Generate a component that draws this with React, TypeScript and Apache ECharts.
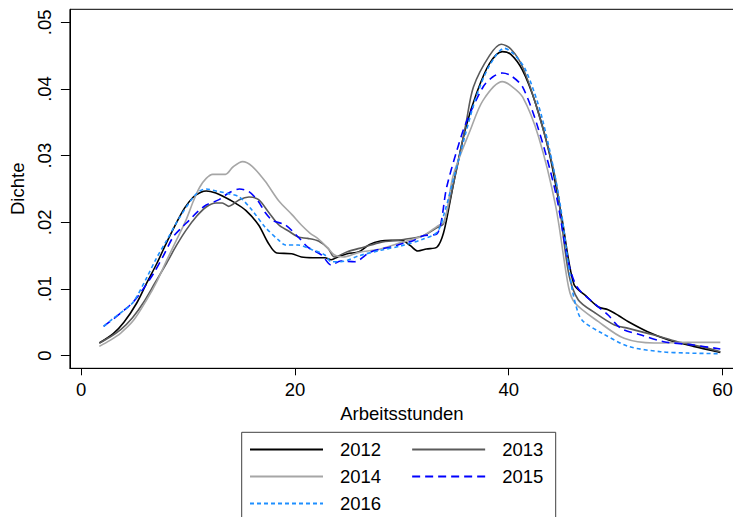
import { useEffect, useRef } from "react";
import * as echarts from "echarts";

const years = ["2012", "2013", "2014", "2015", "2016"];

const s2012: [number, number][] = [
  [1.7, 0.0019], [3.0, 0.0033], [4.0, 0.005], [5.2, 0.0079], [6.1, 0.0108], [7.1, 0.0139], [8.0, 0.017],
  [8.9, 0.0199], [9.7, 0.0222], [10.5, 0.0238], [11.2, 0.0245], [11.7, 0.0247], [12.6, 0.0244], [13.4, 0.0238],
  [14.2, 0.0231], [15.4, 0.0218], [16.6, 0.0196], [17.5, 0.0169], [18.3, 0.0154], [19.7, 0.0153], [20.6, 0.0148],
  [21.7, 0.0147], [22.8, 0.0147], [23.4, 0.0144], [24.0, 0.0148], [24.9, 0.0153], [26.0, 0.0156], [27.0, 0.0167],
  [28.0, 0.0172], [29.0, 0.0173], [30.0, 0.0173], [30.8, 0.0165], [31.5, 0.0157], [32.3, 0.016], [33.3, 0.0163],
  [33.9, 0.0184], [34.5, 0.023], [35.1, 0.0279], [36.0, 0.0343], [37.0, 0.0394], [38.2, 0.0438], [39.4, 0.0456],
  [40.2, 0.0452], [41.3, 0.0428], [42.5, 0.0379], [43.8, 0.0304], [45.0, 0.0204], [46.1, 0.0107], [47.2, 0.009],
  [48.4, 0.0073], [49.3, 0.0069], [50.3, 0.006], [51.2, 0.0051], [53.0, 0.0036], [54.9, 0.0024], [57.3, 0.0014],
  [59.8, 0.0005],
];

const s2013: [number, number][] = [
  [1.7, 0.0019], [2.7, 0.0028], [3.7, 0.0039], [4.8, 0.0057], [5.8, 0.0079], [6.9, 0.0109], [8.0, 0.0139],
  [8.9, 0.0165], [9.8, 0.0188], [10.8, 0.0209], [11.7, 0.0223], [12.6, 0.0229], [13.2, 0.0229], [13.8, 0.0224],
  [14.8, 0.0234], [15.7, 0.0238], [16.6, 0.0234], [17.5, 0.0216], [18.5, 0.0196], [19.4, 0.0187], [20.3, 0.0178],
  [21.2, 0.0176], [22.2, 0.0172], [23.1, 0.0161], [23.7, 0.0148], [24.9, 0.0156], [26.5, 0.0163], [28.0, 0.017],
  [30.0, 0.0174], [32.0, 0.018], [33.3, 0.0192], [33.9, 0.0198], [35.0, 0.027], [36.0, 0.0348], [36.7, 0.0403],
  [38.2, 0.045], [39.3, 0.0467], [40.2, 0.046], [41.3, 0.0433], [42.8, 0.0363], [44.4, 0.0263], [45.6, 0.0124],
  [46.5, 0.0084], [48.1, 0.0064], [49.9, 0.0046], [51.2, 0.0041], [53.6, 0.0031], [55.8, 0.0021], [57.9, 0.0014],
  [59.8, 0.0006],
];

const s2014: [number, number][] = [
  [1.7, 0.0014], [2.7, 0.0023], [3.7, 0.0034], [4.9, 0.0053], [6.1, 0.0083], [7.1, 0.0112], [8.0, 0.0143],
  [8.9, 0.0173], [9.8, 0.0203], [10.5, 0.0232], [11.1, 0.0253], [11.7, 0.0266], [12.3, 0.0272], [13.5, 0.0272],
  [14.2, 0.0283], [15.1, 0.0291], [16.0, 0.0284], [17.2, 0.0262], [18.5, 0.0232], [19.7, 0.0212], [20.6, 0.0196],
  [21.4, 0.0184], [22.2, 0.0175], [23.1, 0.0161], [23.7, 0.0151], [24.5, 0.0148], [26.0, 0.0155], [28.0, 0.016],
  [30.0, 0.017], [32.0, 0.018], [33.3, 0.0194], [34.0, 0.0202], [34.8, 0.027], [36.4, 0.0338], [37.6, 0.0383],
  [39.4, 0.0411], [40.2, 0.0405], [41.3, 0.0388], [42.8, 0.0328], [44.4, 0.0224], [45.6, 0.0103], [46.2, 0.0079],
  [48.4, 0.0051], [50.8, 0.0026], [53.6, 0.0019], [56.7, 0.002], [59.8, 0.002],
];

const s2015: [number, number][] = [
  [2.1, 0.0044], [3.0, 0.0055], [4.0, 0.0068], [4.9, 0.0081], [5.8, 0.01], [6.8, 0.0124], [7.7, 0.015],
  [8.6, 0.0178], [9.4, 0.0192], [10.1, 0.0203], [10.9, 0.0216], [11.7, 0.0226], [12.9, 0.0234], [13.8, 0.0244],
  [14.8, 0.025], [15.7, 0.0246], [16.6, 0.0231], [17.2, 0.0215], [17.9, 0.0203], [19.1, 0.0196], [20.3, 0.0178],
  [21.2, 0.0163], [22.5, 0.0151], [23.4, 0.0136], [24.3, 0.0142], [25.6, 0.0141], [27.0, 0.0155], [28.0, 0.016],
  [29.0, 0.0163], [30.0, 0.0168], [31.0, 0.0172], [32.0, 0.018], [33.3, 0.0183], [34.2, 0.0253], [35.1, 0.0305],
  [36.0, 0.0349], [37.6, 0.0403], [38.5, 0.0418], [39.4, 0.0424], [40.2, 0.042], [41.3, 0.0403], [42.8, 0.0339],
  [44.4, 0.0244], [45.6, 0.0139], [46.4, 0.0103], [47.8, 0.0081], [49.3, 0.0061], [50.5, 0.0041], [52.4, 0.0031],
  [54.5, 0.0021], [57.3, 0.0016], [59.8, 0.001],
];

const s2016: [number, number][] = [
  [2.1, 0.0044], [3.0, 0.0056], [4.0, 0.0068], [4.9, 0.0081], [6.1, 0.0116], [7.0, 0.0145], [8.0, 0.0173],
  [9.2, 0.0207], [10.5, 0.0238], [11.1, 0.0247], [11.7, 0.025], [12.9, 0.0246], [13.8, 0.0243], [14.8, 0.0238],
  [16.0, 0.0218], [17.2, 0.0193], [18.5, 0.0173], [19.1, 0.0166], [20.3, 0.0166], [21.6, 0.0159], [22.8, 0.0151],
  [23.4, 0.0141], [24.3, 0.0141], [26.0, 0.015], [28.0, 0.0158], [30.0, 0.0165], [32.0, 0.0175], [33.3, 0.0185],
  [34.0, 0.0215], [35.0, 0.0275], [36.0, 0.0335], [37.0, 0.039], [38.2, 0.0435], [39.6, 0.0461], [40.5, 0.0452],
  [41.6, 0.0428], [43.1, 0.0358], [44.7, 0.0238], [45.9, 0.0103], [46.5, 0.0064], [47.0, 0.0051], [48.7, 0.0034],
  [51.2, 0.0014], [54.2, 0.0006], [56.7, 0.0004], [59.8, 0.0003],
];

const seriesData = [s2012, s2013, s2014, s2015, s2016];
const colors = ["#000000", "#5a5a5a", "#a6a6a6", "#0000ff", "#1e8fff"];
const dashTypes: any[] = ["solid", "solid", "solid", [8, 5], [4, 3]];

const xTicks = [0, 20, 40, 60];
const yTicks = [0, 0.01, 0.02, 0.03, 0.04, 0.05];
const yTickLabels = ["0", ".01", ".02", ".03", ".04", ".05"];

const FONT = "'Liberation Sans', Arial, sans-serif";

export default function App() {
  const ref = useRef<HTMLDivElement>(null);
  useEffect(() => {
    const chart = echarts.init(ref.current!, null, { renderer: "svg" });
    chart.setOption({
      animation: false,
      backgroundColor: "#ffffff",
      grid: {
        left: 62.3,
        top: 9.3,
        width: 671.7,
        height: 359,
        show: true,
        borderColor: "#000",
        borderWidth: 1,
        backgroundColor: "transparent",
      },
      xAxis: {
        type: "value",
        min: -1.055,
        max: 61.08,
        name: "Arbeitsstunden",
        nameLocation: "middle",
        nameGap: 32,
        nameTextStyle: { fontSize: 18.5, color: "#000", fontFamily: FONT },
        axisLine: { onZero: false, lineStyle: { color: "#000", width: 1 } },
        axisTick: { customValues: xTicks, length: 7, lineStyle: { color: "#000" } },
        axisLabel: { customValues: xTicks, fontSize: 18.5, color: "#000", fontFamily: FONT, margin: 12 },
        splitLine: { show: false },
      },
      yAxis: {
        type: "value",
        min: -0.00189,
        max: 0.05195,
        name: "Dichte",
        nameLocation: "middle",
        nameRotate: 90,
        nameGap: 33,
        nameTextStyle: { fontSize: 18.5, color: "#000", fontFamily: FONT },
        axisLine: { onZero: false, lineStyle: { color: "#000", width: 1 } },
        axisTick: { customValues: yTicks, length: 9, lineStyle: { color: "#000" } },
        axisLabel: {
          customValues: yTicks,
          rotate: 90,
          fontSize: 18.5,
          color: "#000",
          fontFamily: FONT,
          margin: 16,
          formatter: (v: number) => {
            const i = yTicks.findIndex((t) => Math.abs(t - v) < 1e-9);
            return i >= 0 ? yTickLabels[i] : "";
          },
        },
        splitLine: { show: false },
      },
      legend: {
        data: years,
        left: 249,
        top: 440,
        orient: "horizontal",
        width: 325,
        padding: 0,
        itemGap: 8,
        itemWidth: 73,
        itemHeight: 14,
        selectedMode: false,
        itemStyle: { color: "transparent", borderColor: "transparent", borderWidth: 0, opacity: 0 },
        textStyle: {
          fontSize: 18.5,
          color: "#000",
          fontFamily: FONT,
          padding: [0, 22, 0, 12],
          lineHeight: 19,
        },
      },
      graphic: [
        {
          type: "rect",
          shape: { x: 241.7, y: 432.3, width: 314, height: 120 },
          style: { fill: "none", stroke: "#404040", lineWidth: 1 },
          silent: true,
        },
      ],
      series: years.map((y, i) => ({
        name: y,
        type: "line",
        data: seriesData[i],
        symbol: "none",
        smooth: 0.3,
        lineStyle: { color: colors[i], width: 1.6, type: dashTypes[i] },
        itemStyle: { color: colors[i] },
        z: 2 + i,
      })),
    });
    return () => chart.dispose();
  }, []);
  return (
    <div
      style={{
        position: "absolute",
        left: 0,
        top: 0,
        width: 733,
        height: 517,
        overflow: "hidden",
        background: "#fff",
      }}
    >
      <div ref={ref} style={{ width: 745, height: 517 }} />
    </div>
  );
}
